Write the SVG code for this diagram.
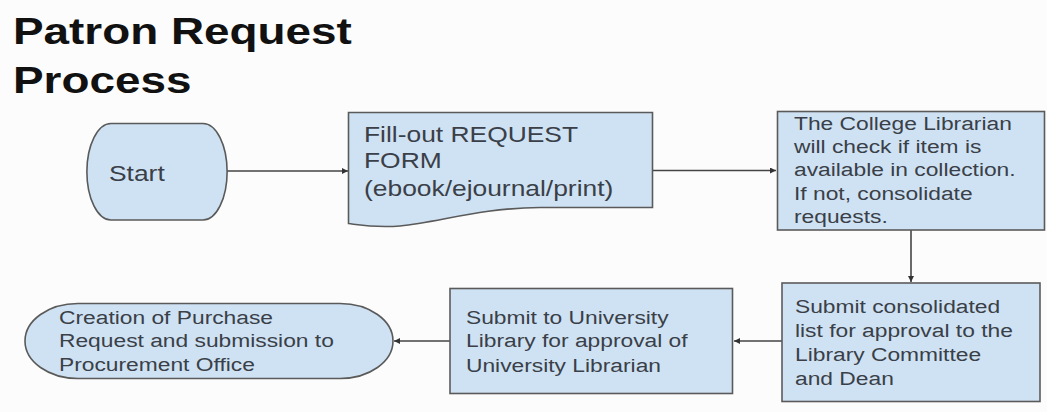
<svg xmlns="http://www.w3.org/2000/svg" width="1047" height="412" viewBox="0 0 1047 412">
<defs>
<style>
.node{fill:#cfe2f3;stroke:#5a5a5a;stroke-width:1.6}
.lbl{font-family:"Liberation Sans",Arial,sans-serif;fill:#3a3f48}
.l22{font-size:22px}
.l19{font-size:19px}
.title{font-family:"Liberation Sans",Arial,sans-serif;font-weight:bold;font-size:37px;fill:#111}
.conn{fill:none;stroke:#444;stroke-width:1.6}
</style>
<marker id="arr" viewBox="0 0 10 10" refX="10" refY="5" markerWidth="6" markerHeight="6" markerUnits="userSpaceOnUse" orient="auto">
<path d="M0,0 L10,5 L0,10 z" fill="#333"/>
</marker>
</defs>
<rect width="1047" height="412" fill="#fcfcfc"/>
<g id="title">
<text class="title" transform="translate(13,44) scale(1.24 1)"><tspan x="0" y="0">Patron Request</tspan><tspan x="0" y="49">Process</tspan></text>
</g>
<g id="connectors">
<path class="conn" d="M227,171 L348,171" marker-end="url(#arr)"/>
<path class="conn" d="M653,170.5 L776,170.5" marker-end="url(#arr)"/>
<path class="conn" d="M911,230 L911,282" marker-end="url(#arr)"/>
<path class="conn" d="M782,341 L734,341" marker-end="url(#arr)"/>
<path class="conn" d="M450,341 L394,341" marker-end="url(#arr)"/>
</g>
<g id="start">
<path class="node" d="M111,123.5 L203,123.5 A24,48 0 0 1 203,220 L111,220 A24,48 0 0 1 111,123.5 Z"/>
<text class="lbl l22" transform="translate(109,181) scale(1.2 1)">Start</text>
</g>
<g id="request-form">
<path class="node" d="M348.5,112.5 L652.5,112.5 L652.5,207.5 L540,207.5 C480,208 440,222 400,226 C375,228 360,225 348.5,223.5 Z"/>
<text class="lbl l22" transform="translate(364,141.5) scale(1.2 1)"><tspan x="0" y="0">Fill-out REQUEST</tspan><tspan x="0" y="27">FORM</tspan><tspan x="0" y="54.5">(ebook/ejournal/print)</tspan></text>
</g>
<g id="college-librarian">
<rect class="node" x="777.5" y="111.5" width="267" height="118.5"/>
<text class="lbl l19" transform="translate(794,129.5) scale(1.2 1)"><tspan x="0" y="0">The College Librarian</tspan><tspan x="0" y="23.5">will check if item is</tspan><tspan x="0" y="47">available in collection.</tspan><tspan x="0" y="70.5">If not, consolidate</tspan><tspan x="0" y="94">requests.</tspan></text>
</g>
<g id="consolidated-list">
<rect class="node" x="782" y="283" width="258" height="118.5"/>
<text class="lbl l19" transform="translate(795,313) scale(1.2 1)"><tspan x="0" y="0">Submit consolidated</tspan><tspan x="0" y="24">list for approval to the</tspan><tspan x="0" y="48">Library Committee</tspan><tspan x="0" y="72">and Dean</tspan></text>
</g>
<g id="university-library">
<rect class="node" x="450" y="288.5" width="282.5" height="105"/>
<text class="lbl l19" transform="translate(466,323.5) scale(1.2 1)"><tspan x="0" y="0">Submit to University</tspan><tspan x="0" y="24">Library for approval of</tspan><tspan x="0" y="48.5">University Librarian</tspan></text>
</g>
<g id="purchase-request">
<path class="node" d="M78,303.5 L340,303.5 A53,37.5 0 0 1 340,378.5 L78,378.5 A53,37.5 0 0 1 78,303.5 Z"/>
<text class="lbl l19" transform="translate(59,323.5) scale(1.2 1)"><tspan x="0" y="0">Creation of Purchase</tspan><tspan x="0" y="24">Request and submission to</tspan><tspan x="0" y="48">Procurement Office</tspan></text>
</g>
</svg>
